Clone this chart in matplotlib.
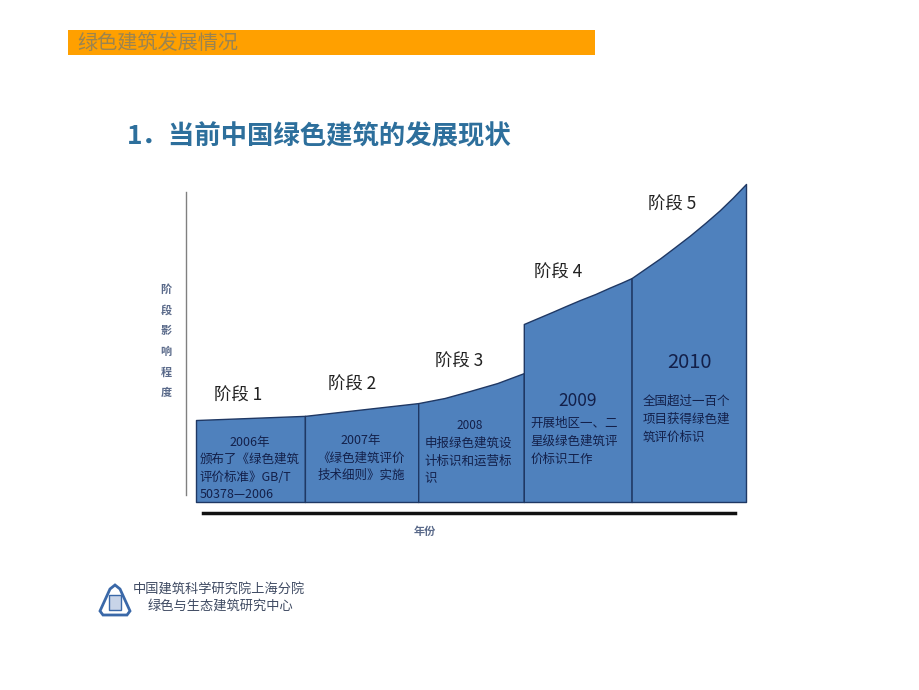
# -*- coding: utf-8 -*-
"""
Stage chart: development of green building in China (2006-2010)
"""
import matplotlib
matplotlib.use('Agg')
import matplotlib.pyplot as plt
from matplotlib.patches import Rectangle, Polygon

plt.rcParams['font.family'] = ['Noto Sans CJK SC', 'DejaVu Sans']

# stage data
stage_labels = ['阶段 1', '阶段 2', '阶段 3', '阶段 4', '阶段 5']
stage_years = ['2006年', '2007年', '2008', '2009', '2010']
stage_notes = ['颁布了《绿色建筑\n评价标准》GB/T\n50378—2006',
               '《绿色建筑评价\n技术细则》实施',
               '申报绿色建筑设\n计标识和运营标\n识',
               '开展地区一、二\n星级绿色建筑评\n价标识工作',
               '全国超过一百个\n项目获得绿色建\n筑评价标识']

# outline of the impact curve, per stage (x along the year axis, height = impact)
stage_x = [[0.0, 0.99],
           [0.99, 2.02],
           [2.02, 2.26, 2.49, 2.74, 2.98],
           [2.98, 3.11, 3.24, 3.36, 3.49, 3.63, 3.76, 3.87, 3.96],
           [3.96, 4.09, 4.22, 4.35, 4.49, 4.63, 4.76, 4.88, 5.0]]
stage_top = [[25.7, 27.0],
             [27.0, 31.0],
             [31.0, 32.6, 34.8, 37.3, 40.4],
             [55.8, 57.7, 59.6, 61.4, 63.3, 65.2, 67.2, 68.8, 70.2],
             [70.2, 73.3, 76.4, 79.8, 83.5, 87.5, 91.4, 95.4, 99.7]]

W, H = 920, 690

def fx(x):
    return x / W

def fy(y):
    return 1 - y / H

fig = plt.figure(figsize=(9.2, 6.9), dpi=100)
fig.patch.set_facecolor('white')

# header band
fig.patches.append(Rectangle((fx(68), fy(55)), fx(595) - fx(68), fy(30) - fy(55),
                             transform=fig.transFigure, facecolor='#ffa000',
                             edgecolor='none'))
fig.text(fx(77), fy(43), '绿色建筑发展情况', fontsize=14.5, color='#9b8450',
         va='center', ha='left')

# title
fig.text(fx(127), fy(137), '1．当前中国绿色建筑的发展现状', fontsize=19,
         color='#2d6f9c', fontweight='bold', va='center', ha='left')

# chart axes
ax = fig.add_axes([fx(180), fy(540), fx(760) - fx(180), fy(170) - fy(540)])
ax.set_xlim(-0.14545, 5.12727)
ax.set_ylim(-11.912, 104.075)
ax.patch.set_alpha(0)

for xs, tops in zip(stage_x, stage_top):
    ax.fill_between(xs, 0, tops, facecolor='#4f81bd', edgecolor='#1f3864',
                    linewidth=1.0)

label_pos = [(0.38, 33.2), (1.42, 36.7), (2.39, 43.9), (3.29, 71.8), (4.33, 93.1)]
for (x, y), lab in zip(label_pos, stage_labels):
    ax.text(x, y, lab, fontsize=12.5, color='#222222', ha='center', va='center',
            fontweight='medium')

text_col = '#13204a'
# stage 1
ax.text(0.49, 18.5, stage_years[0], fontsize=9, color=text_col, ha='center', va='center')
ax.text(0.036, 7.8, stage_notes[0], fontsize=9, color=text_col, ha='left',
        va='center', linespacing=1.45)
# stage 2
ax.text(1.50, 13.8, stage_years[1] + '\n' + stage_notes[1], fontsize=9,
        color=text_col, ha='center', va='center', linespacing=1.4)
# stage 3
ax.text(2.49, 24.1, stage_years[2], fontsize=8.5, color=text_col, ha='center', va='center')
ax.text(2.08, 12.9, stage_notes[2], fontsize=9, color=text_col, ha='left',
        va='center', linespacing=1.5)
# stage 4
ax.text(3.47, 31.6, stage_years[3], fontsize=12.5, color=text_col, ha='center', va='center')
ax.text(3.04, 19.1, stage_notes[3], fontsize=9, color=text_col, ha='left',
        va='center', linespacing=1.5)
# stage 5
ax.text(4.49, 43.6, stage_years[4], fontsize=14.5, color=text_col, ha='center', va='center')
ax.text(4.06, 26.0, stage_notes[4], fontsize=9, color=text_col, ha='left',
        va='center', linespacing=1.5)

# axis lines
for s in ['top', 'right']:
    ax.spines[s].set_visible(False)
ax.spines['left'].set_position(('data', -0.0909))
ax.spines['left'].set_bounds(2.2, 97.2)
ax.spines['left'].set_color('#808080')
ax.spines['left'].set_linewidth(1.0)
ax.spines['bottom'].set_position(('data', -3.45))
ax.spines['bottom'].set_bounds(0.064, 4.9)
ax.spines['bottom'].set_color('#111111')
ax.spines['bottom'].set_linewidth(2.5)
ax.set_xticks([])
ax.set_yticks([])

# axis titles
fig.text(fx(166), fy(341), '\n'.join('阶段影响程度'), fontsize=8, color='#5a6a8a',
         fontweight='bold', ha='center', va='center', linespacing=1.78)
fig.text(fx(425), fy(531), '年份', fontsize=8, color='#5a6a8a', fontweight='bold',
         ha='center', va='center')

# footer logo and institute name
logo = Polygon([(fx(100), fy(611)), (fx(110), fy(589)), (fx(115), fy(585)),
                (fx(120), fy(589)), (fx(130), fy(611)), (fx(127), fy(615)),
                (fx(103), fy(615))],
               closed=True, transform=fig.transFigure, facecolor='white',
               edgecolor='#3a68a8', linewidth=2)
fig.patches.append(logo)
fig.patches.append(Rectangle((fx(109), fy(610)), fx(12), fy(595) - fy(610),
                             transform=fig.transFigure, facecolor='#c8d4e8',
                             edgecolor='#3a68a8', linewidth=1))
fig.text(fx(133), fy(590), '中国建筑科学研究院上海分院', fontsize=9.5, color='#3e4a62',
         ha='left', va='center')
fig.text(fx(148), fy(606), '绿色与生态建筑研究中心', fontsize=9.5, color='#3e4a62',
         ha='left', va='center')

plt.savefig('out.png', dpi=100)
